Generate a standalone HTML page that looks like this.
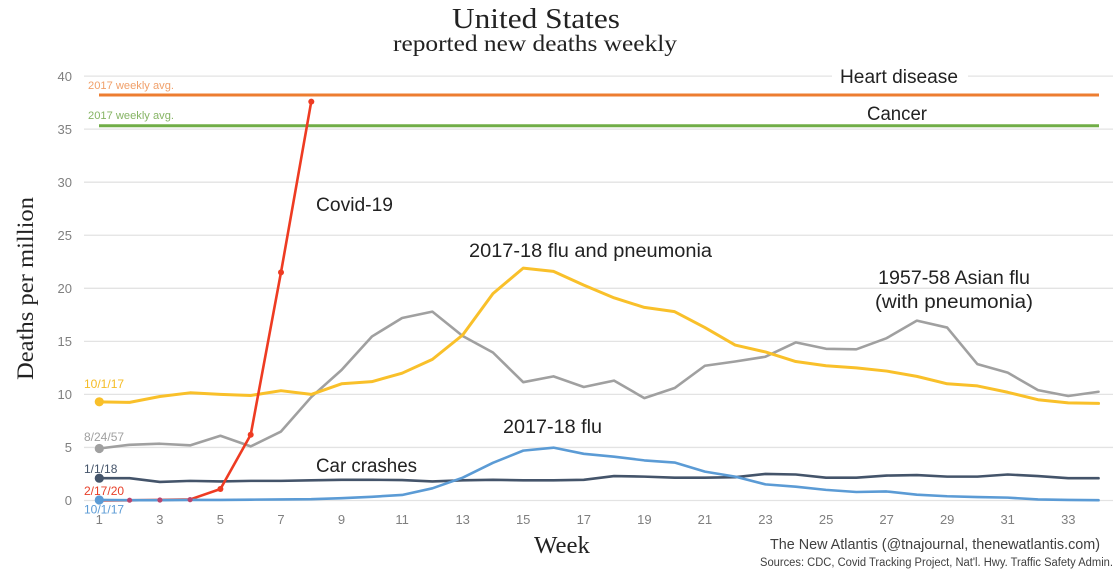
<!DOCTYPE html>
<html><head><meta charset="utf-8"><style>
html,body{margin:0;padding:0;background:#fff;}
svg{display:block;}
text{font-family:"Liberation Sans",sans-serif;}
.serif{font-family:"Liberation Serif",serif;}
</style></head><body>
<svg width="1120" height="569" viewBox="0 0 1120 569" xmlns="http://www.w3.org/2000/svg">
<rect width="1120" height="569" fill="#fff"/>
<!-- Titles -->
<text class="serif" x="536" y="28" font-size="28" text-anchor="middle" fill="#222" textLength="168" lengthAdjust="spacingAndGlyphs">United States</text>
<text class="serif" x="535" y="51" font-size="23" text-anchor="middle" fill="#222" textLength="284" lengthAdjust="spacingAndGlyphs">reported new deaths weekly</text>
<!-- gridlines -->
<g stroke="#e3e3e3" stroke-width="1.3">
<line x1="84" x2="1113" y1="500.5" y2="500.5"/>
<line x1="84" x2="1113" y1="447.45" y2="447.45"/>
<line x1="84" x2="1113" y1="394.4" y2="394.4"/>
<line x1="84" x2="1113" y1="341.35" y2="341.35"/>
<line x1="84" x2="1113" y1="288.3" y2="288.3"/>
<line x1="84" x2="1113" y1="235.25" y2="235.25"/>
<line x1="84" x2="1113" y1="182.2" y2="182.2"/>
<line x1="84" x2="1113" y1="129.15" y2="129.15"/>
<line x1="84" x2="1113" y1="76.1" y2="76.1"/>
</g>
<!-- Y tick labels -->
<g font-size="13" fill="#7f7f7f" text-anchor="end">
<text x="72" y="505">0</text>
<text x="72" y="452">5</text>
<text x="72" y="399">10</text>
<text x="72" y="346">15</text>
<text x="72" y="293">20</text>
<text x="72" y="240">25</text>
<text x="72" y="187">30</text>
<text x="72" y="134">35</text>
<text x="72" y="81">40</text>
</g>
<!-- X tick labels -->
<g font-size="13" fill="#7f7f7f" text-anchor="middle">
<text x="99.3" y="524">1</text>
<text x="159.9" y="524">3</text>
<text x="220.4" y="524">5</text>
<text x="281.0" y="524">7</text>
<text x="341.5" y="524">9</text>
<text x="402.1" y="524">11</text>
<text x="462.7" y="524">13</text>
<text x="523.2" y="524">15</text>
<text x="583.8" y="524">17</text>
<text x="644.4" y="524">19</text>
<text x="704.9" y="524">21</text>
<text x="765.5" y="524">23</text>
<text x="826.1" y="524">25</text>
<text x="886.6" y="524">27</text>
<text x="947.2" y="524">29</text>
<text x="1007.7" y="524">31</text>
<text x="1068.3" y="524">33</text>
</g>
<!-- axis titles -->
<text class="serif" x="0" y="0" font-size="23" fill="#222" text-anchor="middle" transform="translate(33,288.5) rotate(-90)" textLength="183" lengthAdjust="spacingAndGlyphs">Deaths per million</text>
<text class="serif" x="562" y="553" font-size="24" fill="#222" text-anchor="middle" textLength="56" lengthAdjust="spacingAndGlyphs">Week</text>
<!-- credits -->
<text x="770" y="549" font-size="14.5" fill="#404040" textLength="330" lengthAdjust="spacingAndGlyphs">The New Atlantis (@tnajournal, thenewatlantis.com)</text>
<text x="760" y="566" font-size="11.5" fill="#404040" textLength="353" lengthAdjust="spacingAndGlyphs">Sources: CDC, Covid Tracking Project, Nat'l. Hwy. Traffic Safety Admin.</text>
<!-- Heart disease / cancer -->
<line x1="99" x2="1099" y1="95" y2="95" stroke="#ED7D31" stroke-width="3"/>
<line x1="99" x2="1099" y1="125.7" y2="125.7" stroke="#70AD47" stroke-width="3"/>
<rect x="832" y="66" width="136" height="22" fill="#fff"/>
<text x="840" y="83" font-size="19" fill="#222" textLength="118" lengthAdjust="spacingAndGlyphs">Heart disease</text>
<text x="867" y="120" font-size="19" fill="#222" textLength="60" lengthAdjust="spacingAndGlyphs">Cancer</text>
<text x="88" y="89" font-size="11" fill="#F0A06A" textLength="86" lengthAdjust="spacingAndGlyphs">2017 weekly avg.</text>
<text x="88" y="119" font-size="11" fill="#86B464" textLength="86" lengthAdjust="spacingAndGlyphs">2017 weekly avg.</text>
<!-- series -->
<g transform="translate(69.02,500.5) scale(30.28,-10.61)" fill="none" stroke-linejoin="round" stroke-linecap="round">
<polyline vector-effect="non-scaling-stroke" stroke="#A0A0A0" stroke-width="2.6" points="1,4.9 2,5.25 3,5.35 4,5.2 5,6.1 6,5.1 7,6.5 8,9.75 9,12.3 10,15.45 11,17.2 12,17.8 13,15.5 14,13.95 15,11.15 16,11.7 17,10.7 18,11.3 19,9.65 20,10.6 21,12.7 22,13.1 23,13.55 24,14.9 25,14.3 26,14.25 27,15.3 28,16.95 29,16.3 30,12.85 31,12.05 32,10.4 33,9.85 34,10.25"/>
<polyline vector-effect="non-scaling-stroke" stroke="#F9C02A" stroke-width="3" points="1,9.3 2,9.25 3,9.8 4,10.15 5,10.0 6,9.9 7,10.35 8,10.0 9,11.0 10,11.2 11,12.0 12,13.3 13,15.6 14,19.5 15,21.9 16,21.6 17,20.3 18,19.1 19,18.2 20,17.8 21,16.3 22,14.65 23,14.0 24,13.1 25,12.7 26,12.5 27,12.2 28,11.7 29,11.0 30,10.8 31,10.2 32,9.5 33,9.2 34,9.15"/>
<polyline vector-effect="non-scaling-stroke" stroke="#44546A" stroke-width="2.6" points="1,2.1 2,2.1 3,1.75 4,1.85 5,1.8 6,1.85 7,1.85 8,1.9 9,1.95 10,1.95 11,1.93 12,1.8 13,1.9 14,1.95 15,1.9 16,1.9 17,1.95 18,2.3 19,2.25 20,2.15 21,2.15 22,2.2 23,2.5 24,2.45 25,2.15 26,2.15 27,2.35 28,2.4 29,2.25 30,2.25 31,2.45 32,2.3 33,2.1 34,2.1"/>
<polyline vector-effect="non-scaling-stroke" stroke="#EE3B22" stroke-width="2.6" points="1,0 2,0.02 3,0.05 4,0.1 5,1.08 6,6.2 7,21.5 8,37.6"/>
<polyline vector-effect="non-scaling-stroke" stroke="#5B9BD5" stroke-width="2.6" points="1,0.05 2,0.03 3,0.03 4,0.05 5,0.05 6,0.08 7,0.1 8,0.12 9,0.22 10,0.35 11,0.52 12,1.15 13,2.15 14,3.55 15,4.7 16,4.98 17,4.4 18,4.13 19,3.78 20,3.58 21,2.72 22,2.25 23,1.52 24,1.3 25,1.0 26,0.8 27,0.85 28,0.55 29,0.4 30,0.32 31,0.27 32,0.1 33,0.05 34,0.03"/>
</g>
<!-- markers -->
<circle cx="99.3" cy="401.8" r="4.6" fill="#F9C02A"/>
<circle cx="99.3" cy="448.5" r="4.6" fill="#A0A0A0"/>
<circle cx="99.3" cy="478.2" r="4.6" fill="#44546A"/>
<circle cx="99.3" cy="500" r="4.6" fill="#5B9BD5"/>
<g fill="#B8456E">
<circle cx="129.6" cy="500.2" r="2.6"/>
<circle cx="159.9" cy="500" r="2.6"/>
<circle cx="190.1" cy="499.6" r="2.6"/>
</g>
<g fill="#EE3B22">
<circle cx="220.4" cy="489" r="3"/>
<circle cx="250.7" cy="434.7" r="3"/>
<circle cx="281.0" cy="272.4" r="3"/>
<circle cx="311.3" cy="101.6" r="3"/>
</g>
<!-- start labels -->
<g font-size="12">
<text x="84" y="388" fill="#F5BC25">10/1/17</text>
<text x="84" y="441" fill="#A0A0A0">8/24/57</text>
<text x="84" y="473" fill="#44546A">1/1/18</text>
<text x="84" y="495" fill="#E8402A">2/17/20</text>
<text x="84" y="513.5" fill="#5B9BD5">10/1/17</text>
</g>
<!-- series labels -->
<g font-size="19" fill="#222">
<text x="316" y="211" textLength="77" lengthAdjust="spacingAndGlyphs">Covid-19</text>
<text x="469" y="257" textLength="243" lengthAdjust="spacingAndGlyphs">2017-18 flu and pneumonia</text>
<text x="878" y="284" textLength="152" lengthAdjust="spacingAndGlyphs">1957-58 Asian flu</text>
<text x="875" y="308" textLength="158" lengthAdjust="spacingAndGlyphs">(with pneumonia)</text>
<text x="503" y="433" textLength="99" lengthAdjust="spacingAndGlyphs">2017-18 flu</text>
<text x="316" y="472" textLength="101" lengthAdjust="spacingAndGlyphs">Car crashes</text>
</g>
</svg>
</body></html>
